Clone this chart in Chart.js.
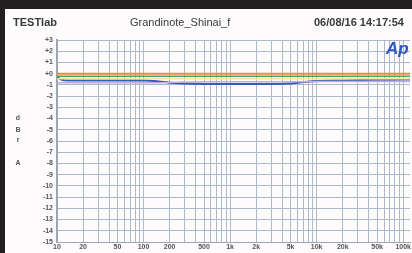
<!DOCTYPE html>
<html>
<head>
<meta charset="utf-8">
<script src="https://cdn.jsdelivr.net/npm/chart.js@4"></script>
<style>
  html, body { margin: 0; padding: 0; }
  body { width: 412px; height: 253px; background: #fdfbfb; position: relative; overflow: hidden;
         font-family: "Liberation Sans", Arial, sans-serif; }
  #wrap { position: absolute; left: 0; top: 0; width: 412px; height: 253px; }
  .band { position: absolute; background: #231f20; }
  .t { position: absolute; color: #3a3a3a; font-size: 11px; white-space: nowrap; }
  .ax { position: absolute; left: 14px; width: 8px; text-align: center; color: #555; font-size: 7px; font-weight: bold; }
</style>
</head>
<body>
<div id="wrap"><canvas id="c" width="412" height="253"></canvas></div>
<div class="band" style="left:0;top:0;width:412px;height:9px"></div>
<div class="band" style="left:0;top:0;width:5px;height:253px"></div>
<div class="t" style="left:13px;top:16px;font-weight:bold">TESTlab</div>
<div class="t" style="left:130px;top:16px">Grandinote_Shinai_f</div>
<div class="t" style="left:314px;top:16px;font-weight:bold">06/08/16 14:17:54</div>
<div class="t" style="left:386px;top:39px;font-size:17px;font-weight:bold;font-style:italic;color:#2b56c4">Ap</div>
<div class="ax" style="top:114px">d</div>
<div class="ax" style="top:126px">B</div>
<div class="ax" style="top:136px">r</div>
<div class="ax" style="top:159px">A</div>
<script>
// frequency points (Hz) and levels (dBrA)
const freqs = [10, 12, 20, 50, 100, 150, 200, 300, 500, 1000, 2000, 3000, 5000, 7000, 10000, 20000, 50000, 100000, 120000];
const orangeDb = [0, 0, 0, 0, 0, 0, 0, 0, 0, 0, 0, 0, 0, 0, 0, 0, 0, 0, 0];
const greenDb = [-0.22, -0.22, -0.22, -0.22, -0.22, -0.22, -0.22, -0.22, -0.22, -0.22, -0.22, -0.22, -0.22, -0.22, -0.22, -0.22, -0.22, -0.22, -0.22];
const yellowDb = [-0.45, -0.45, -0.45, -0.45, -0.45, -0.45, -0.45, -0.45, -0.45, -0.45, -0.45, -0.45, -0.45, -0.45, -0.45, -0.45, -0.45, -0.45, -0.45];
const purpleDb = [-0.8, -0.8, -0.8, -0.8, -0.8, -0.8, -0.78, -0.75, -0.73, -0.73, -0.73, -0.73, -0.73, -0.72, -0.7, -0.7, -0.7, -0.7, -0.7];
const blueDb = [-0.35, -0.58, -0.6, -0.6, -0.62, -0.7, -0.8, -0.88, -0.92, -0.93, -0.93, -0.92, -0.88, -0.75, -0.65, -0.6, -0.55, -0.52, -0.52];

const gridFreqs = [];
[10, 100, 1000, 10000].forEach((d) => {
  for (let m = 1; m < 10; m++) gridFreqs.push(d * m);
});
gridFreqs.push(100000);
const xLabels = { 10: "10", 20: "20", 50: "50", 100: "100", 200: "200", 500: "500",
  1000: "1k", 2000: "2k", 5000: "5k", 10000: "10k", 20000: "20k", 50000: "50k", 100000: "100k" };

function series(label, values, color, width) {
  return {
    label: label,
    data: freqs.map((f, i) => ({ x: f, y: values[i] })),
    borderColor: color,
    borderWidth: width,
    pointRadius: 0,
    tension: 0.3,
    fill: false,
  };
}

new Chart(document.getElementById("c"), {
  type: "line",
  data: {
    datasets: [
      series("orange", orangeDb, "#f0883a", 2),
      series("green", greenDb, "#3ea673", 1.5),
      series("yellow", yellowDb, "#f2e6a2", 1.5),
      series("purple", purpleDb, "#c7a8da", 1.5),
      series("blue", blueDb, "#2f5fbb", 2),
    ],
  },
  options: {
    responsive: false,
    animation: false,
    layout: { padding: { top: 40, left: 0, right: 0, bottom: 0 } },
    plugins: { legend: { display: false }, tooltip: { enabled: false } },
    scales: {
      x: {
        type: "logarithmic",
        min: 10,
        max: 120000,
        afterBuildTicks: (scale) => {
          scale.ticks = gridFreqs.map((v) => ({ value: v }));
        },
        afterFit: (scale) => { scale.height = 11; },
        grid: { color: "#adb9c7", lineWidth: 1, drawTicks: false },
        border: { color: "#9aa6b4" },
        ticks: {
          autoSkip: false,
          maxRotation: 0,
          padding: 1,
          color: "#555",
          font: { size: 7, weight: "bold", family: "Liberation Sans" },
          callback: (v) => xLabels[v] || "",
        },
      },
      y: {
        min: -15,
        max: 3,
        afterFit: (scale) => { scale.width = 57; },
        grid: { color: "#adb9c7", lineWidth: 1, drawTicks: false },
        border: { color: "#9aa6b4", width: 2 },
        ticks: {
          stepSize: 1,
          autoSkip: false,
          padding: 4,
          color: "#555",
          font: { size: 7, weight: "bold", family: "Liberation Sans" },
          callback: (v) => (v >= 0 ? "+" + v : String(v)),
        },
      },
    },
  },
});
</script>
</body>
</html>
